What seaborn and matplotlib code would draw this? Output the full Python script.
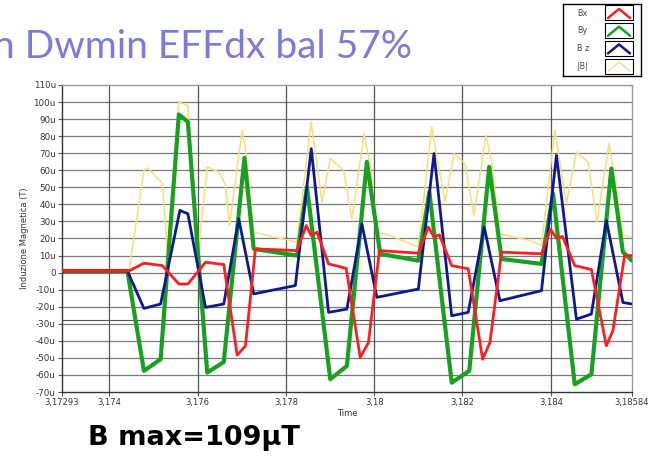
import numpy as np
import pandas as pd
import matplotlib
matplotlib.use("Agg")
import matplotlib.pyplot as plt
import seaborn as sns

# ---------------- data (values in micro-Tesla) ----------------
bx_t = [3.17293, 3.174447, 3.174786, 3.175202, 3.175577, 3.175781, 3.176181, 3.176594,
        3.176897, 3.177085, 3.177311, 3.178253, 3.178463, 3.17857, 3.178705, 3.178967,
        3.179367, 3.179684, 3.179871, 3.18012, 3.181001, 3.181227, 3.181356, 3.181476,
        3.181756, 3.182131, 3.182457, 3.182622, 3.182886, 3.18379, 3.183994, 3.184129,
        3.184265, 3.184543, 3.18492, 3.185259, 3.185408, 3.185673, 3.18584]
bx_v = [1, 1, 5.5, 4.1, -6.7, -6.7, 6.1, 4.7,
        -48.4, -43, 13.9, 12.9, 27.6, 21.8, 23.7, 5.1,
        2.5, -49.8, -41, 12.9, 11.4, 26.7, 20.8, 22.2,
        4.1, 2.2, -50.8, -41, 12, 11, 25.3, 20.2,
        21.2, 4.1, 1.8, -42.9, -34, 10, 10]

by_t = [3.17293, 3.174411, 3.174786, 3.175164, 3.175577, 3.175781, 3.176219, 3.176594,
        3.177062, 3.177272, 3.178253, 3.178479, 3.179006, 3.179383, 3.179835, 3.180136,
        3.181001, 3.18125, 3.181756, 3.182154, 3.182606, 3.182886, 3.18379, 3.184052,
        3.184543, 3.18492, 3.185372, 3.185634, 3.18584]
by_v = [1, 1, -57.6, -50.8, 92.7, 88.4, -58.6, -52.4,
        67.3, 13.9, 10, 50.2, -62.5, -54.7, 64.9, 11,
        7, 47.3, -64.5, -57.6, 62, 8, 5.1, 46.3,
        -65.5, -59.6, 61, 12, 7]

bz_t = [3.17293, 3.174411, 3.174786, 3.175164, 3.1756, 3.175781, 3.176181, 3.176594,
        3.176933, 3.177272, 3.178215, 3.178576, 3.178967, 3.179383, 3.179722, 3.180061,
        3.181001, 3.181356, 3.181756, 3.182131, 3.182493, 3.182848, 3.18379, 3.184129,
        3.184581, 3.18492, 3.185259, 3.185634, 3.18584]
bz_v = [1, 1, -21, -18.4, 36.5, 34.5, -20.4, -18.4,
        31.6, -12.5, -7.6, 72.7, -23.3, -21.4, 28.6, -14.5,
        -9.6, 69.8, -25.3, -23.3, 26.7, -16.5, -10.6, 68.8,
        -27.3, -24.3, 30.6, -17.5, -18.4]

bm_t = [3.17293, 3.174447, 3.174786, 3.174877, 3.175202, 3.175315, 3.175577, 3.175781,
        3.175993, 3.176219, 3.176481, 3.176633, 3.176723, 3.17701, 3.177085, 3.177272,
        3.178253, 3.17857, 3.178818, 3.179006, 3.179306, 3.179496, 3.179774, 3.17991,
        3.180061, 3.180362, 3.181001, 3.181304, 3.181605, 3.181808, 3.182057, 3.18226,
        3.182531, 3.18266, 3.182848, 3.183526, 3.18379, 3.184091, 3.184355, 3.184581,
        3.184843, 3.185047, 3.185318, 3.185469, 3.185634, 3.18584]
bm_v = [1.4, 1.4, 60, 61.4, 52.2, 12, 100, 98,
        6, 62, 59, 51.2, 27.6, 83.5, 72.7, 23.7,
        17.8, 88.4, 41.4, 66.9, 60, 31.6, 81.6, 63,
        23.7, 21.8, 14.9, 85.5, 41.4, 69.8, 63.9, 33.5,
        80.6, 64.9, 22.7, 18.8, 15.9, 83.5, 40.4, 70.8,
        64.9, 29.6, 75.7, 51.2, 21.8, 20.8]

x_ticks = [3.17293, 3.174, 3.176, 3.178, 3.18, 3.182, 3.184, 3.18584]
x_tick_labels = ["3,17293", "3,174", "3,176", "3,178", "3,18", "3,182", "3,184", "3,18584"]
y_ticks = [110, 100, 90, 80, 70, 60, 50, 40, 30, 20, 10, 0, -10, -20, -30, -40, -50, -60, -70]
y_tick_labels = [f"{v}u" if v != 0 else "0" for v in y_ticks]
legend_names = ["Bx", "By", "B z", "|B|"]

title_text = "n Dwmin EFFdx bal 57%"
bottom_text = "B max=109\u03bcT"

# ---------------- style ----------------
sns.set_style("white")
plt.rcParams["font.family"] = ["DejaVu Sans"]

c_red = "#FF1E1E"
c_green = "#18A020"
c_blue = "#0C1A8E"
c_yel = "#F6DE78"

fig = plt.figure(figsize=(6.5, 4.61), dpi=100)
ax = fig.add_axes([62/650, 1-392/461, (632-62)/650, (392-85)/461])

df_m = pd.DataFrame({"t": bm_t, "v": bm_v})
df_y = pd.DataFrame({"t": by_t, "v": by_v})
df_z = pd.DataFrame({"t": bz_t, "v": bz_v})
df_x = pd.DataFrame({"t": bx_t, "v": bx_v})

kw = dict(ax=ax, sort=False, estimator=None, solid_joinstyle="round", solid_capstyle="round")
sns.lineplot(data=df_m, x="t", y="v", color=c_yel, lw=1.1, zorder=3, **kw)
sns.lineplot(data=df_y, x="t", y="v", color=c_green, lw=3.0, zorder=4, **kw)
sns.lineplot(data=df_z, x="t", y="v", color=c_blue, lw=2.0, zorder=5, **kw)
sns.lineplot(data=df_x, x="t", y="v", color=c_red, lw=2.0, zorder=6, **kw)

ax.set_xlim(x_ticks[0], x_ticks[-1])
ax.set_ylim(-70, 110)
ax.set_xticks(x_ticks)
ax.set_xticklabels(x_tick_labels, fontsize=6, color="#333333")
ax.set_yticks(y_ticks)
ax.set_yticklabels(y_tick_labels, fontsize=6.3, color="#333333")
ax.tick_params(axis="both", which="both", direction="out", length=3, width=0.8,
               color="#555555", pad=1.5, left=True, bottom=True)

for v in y_ticks[1:-1]:
    ax.axhline(v, color="#7a7a7a", lw=0.9, zorder=1)
ax.axhline(-28, color="#555555", lw=0.8, zorder=1)
for t in x_ticks[1:-1]:
    ax.axvline(t, color="#555555", lw=0.9, zorder=1)

for side in ["left", "bottom"]:
    ax.spines[side].set_color("#333333")
    ax.spines[side].set_linewidth(1.0)
for side in ["top", "right"]:
    ax.spines[side].set_color("#999999")
    ax.spines[side].set_linewidth(1.0)

ax.set_xlabel("Time", fontsize=6, color="#333333", labelpad=1)
ax.set_ylabel("Induzione Magnetica (T)", fontsize=6, color="#333333", labelpad=3)

# title (cut on the left edge as in the reference)
fig.text(-7/650, 1-58/461, title_text, fontsize=28, color="#7B7BDC",
         family=["Lato", "DejaVu Sans"], ha="left", va="baseline")

# bottom annotation
fig.text(88/650, 1-445/461, bottom_text, fontsize=19.5, color="black", weight="bold",
         family=["DejaVu Sans"], ha="left", va="baseline")

# legend box
lax = fig.add_axes([563/650, 1-76/461, (641-563)/650, (76-4)/461])
lax.set_xlim(0, 78)
lax.set_ylim(72, 0)
lax.set_xticks([])
lax.set_yticks([])
for s in lax.spines.values():
    s.set_color("black")
    s.set_linewidth(1.0)
cols = [c_red, c_green, c_blue, c_yel]
for i, (name, col) in enumerate(zip(legend_names, cols)):
    yc = 9 + i * 17.7
    lax.text(14, yc, name, fontsize=5.8, color="#444444", va="center", ha="left")
    lax.add_patch(plt.Rectangle((42, yc - 7.5), 28, 15, fill=False, ec="black", lw=0.8))
    lax.plot([45, 56, 67], [yc + 5, yc - 4, yc + 5], color=col, lw=1.8 if i < 3 else 1.0)

fig.savefig("out.png", dpi=100)
